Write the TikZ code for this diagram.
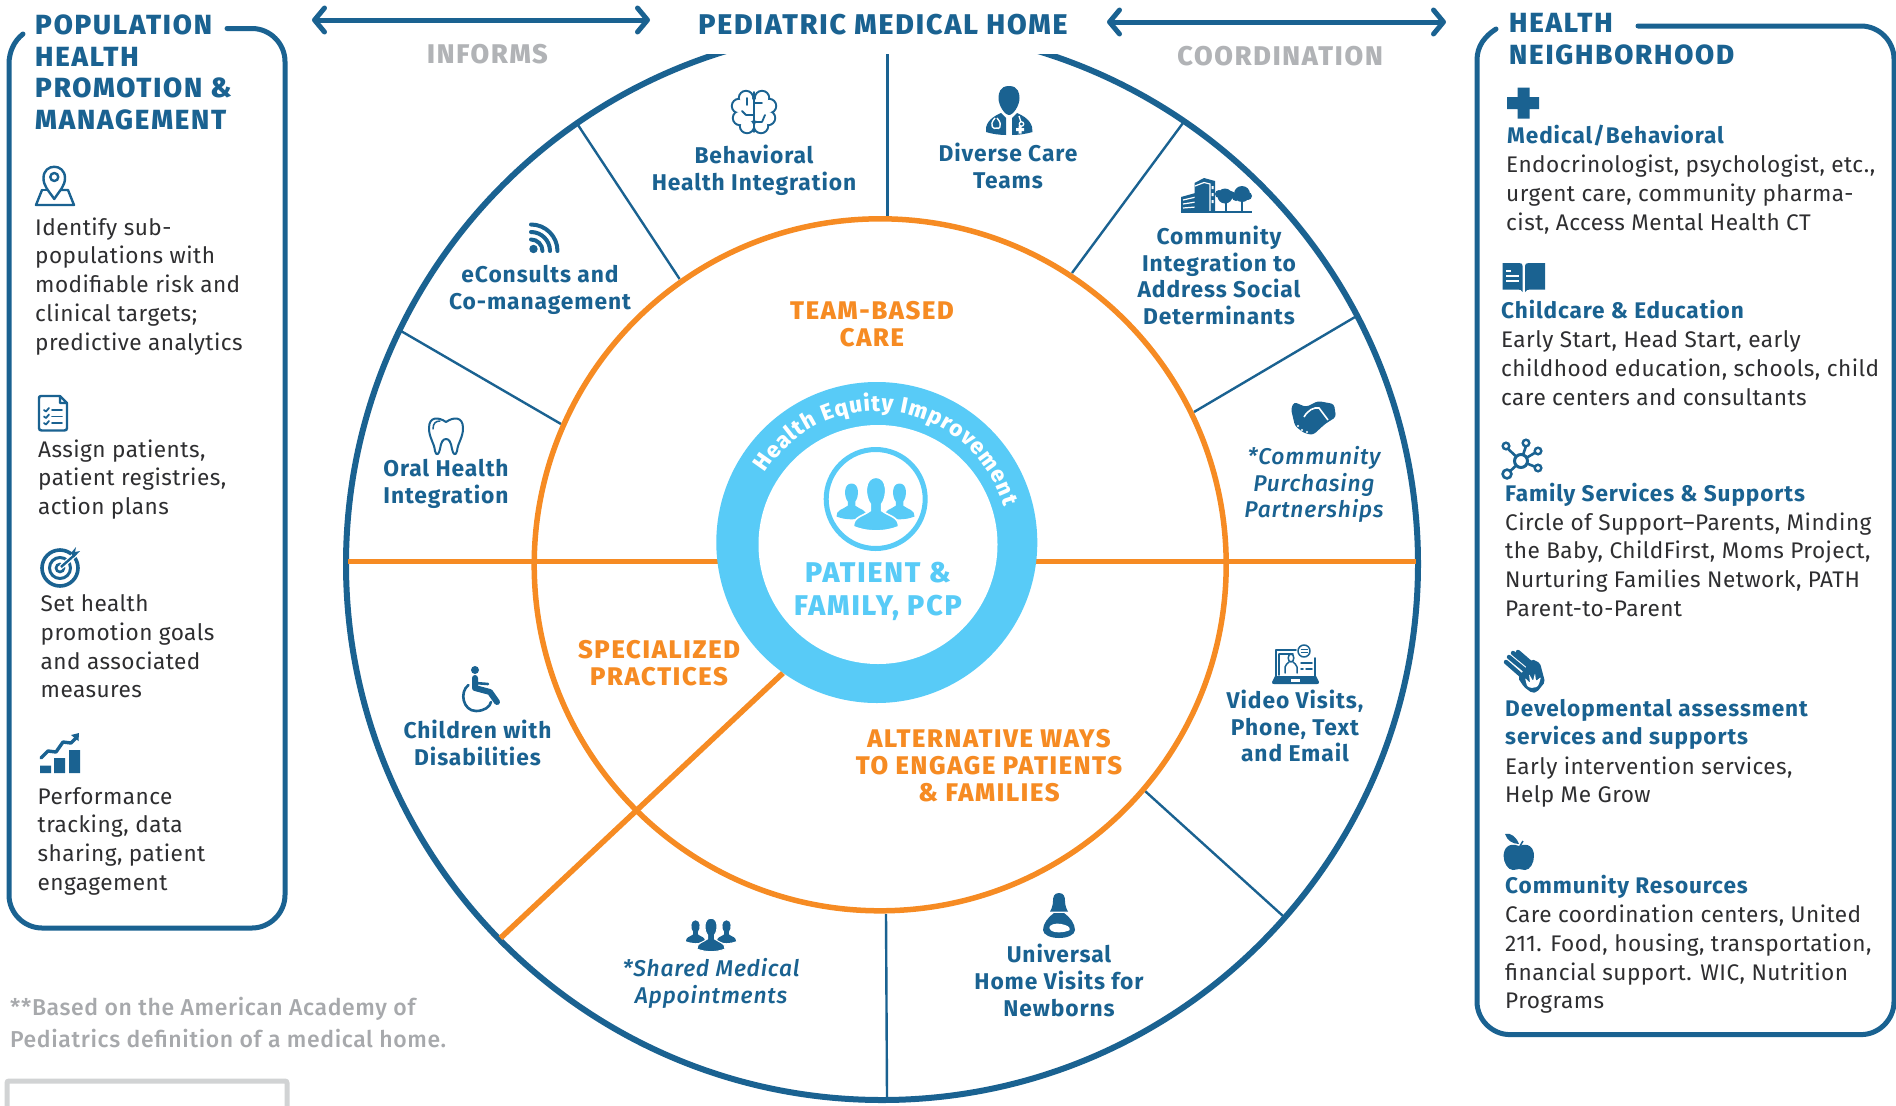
\documentclass[tikz,border=0pt]{standalone}
\usepackage{fontspec}
\usetikzlibrary{arrows.meta,decorations.text}
\setmainfont{Fira Sans}
\newfontfamily\bodyfam[LetterSpace=2]{Fira Sans}
\newfontfamily\labfam[LetterSpace=4]{Fira Sans}
\newfontfamily\medfam[LetterSpace=3.5]{Fira Sans Medium}
\newfontfamily\hvfam[LetterSpace=6.5]{Fira Sans ExtraBold}
\newfontfamily\ringfam{Fira Sans Medium}
\newfontfamily\greyfam[LetterSpace=2.7]{Fira Sans Medium}
\definecolor{bl}{HTML}{1A6291}
\definecolor{org}{HTML}{F68B23}
\definecolor{sky}{HTML}{58CBF7}
\definecolor{gry}{HTML}{B1B3B6}
\definecolor{gry2}{HTML}{A7A9AC}
\definecolor{bx}{HTML}{D1D3D4}
\definecolor{ink}{HTML}{2E2E30}
\newcommand\fl{\rule{0pt}{30pt}}
\newcommand\bustp[5]{% x, y of head, scale, fill, draw opts
 \begin{scope}[shift={(#1,#2)},scale=#3]
 \path[fill=#4,#5] (-1,1.5) .. controls (-1.02,1.05) and (-.6,1.05) .. (-.25,.78) -- (-.25,.5) .. controls (-.5,.2) and (-.55,-.7) .. (0,-.7) .. controls (.55,-.7) and (.5,.2) .. (.25,.5) -- (.25,.78) .. controls (.6,1.05) and (1.02,1.05) .. (1,1.5) .. controls (.4,1.75) and (-.4,1.75) .. cycle;
 \end{scope}}
\tikzset{
 body/.style={inner sep=0,anchor=north west,align=left,text=ink,font=\bodyfam\fontsize{22.6}{28.7}\selectfont},
 bhead/.style={inner sep=0,anchor=north west,align=left,text=bl,font=\labfam\bfseries\fontsize{22.6}{28.7}\selectfont},
 phead/.style={inner sep=0,anchor=north west,align=left,text=bl,font=\hvfam\fontsize{27.7}{31.8}\selectfont},
 wlabel/.style={inner sep=0,anchor=north,align=center,text=bl,font=\labfam\bfseries\fontsize{22.8}{26.8}\selectfont},
 wital/.style={inner sep=0,anchor=north,align=center,text=bl,font=\medfam\itshape\fontsize{22.8}{26.8}\selectfont},
 olabel/.style={inner sep=0,anchor=north,align=center,text=org,font=\hvfam\fontsize{25.5}{27}\selectfont},
 glabel/.style={inner sep=0,anchor=north,align=center,text=gry,font=\hvfam\fontsize{27}{30}\selectfont},
 spoke/.style={draw=bl,line width=2.4pt},
 panel/.style={draw=bl,line width=5pt,line cap=round},
 orangeline/.style={draw=org,line width=5.5pt},
 dbl/.style={draw=bl,line width=5pt,line cap=round,{Straight Barb[length=10pt,width=24pt,line width=5pt,round]}-{Straight Barb[length=10pt,width=24pt,line width=5pt,round]}},
 ic/.style={draw=bl,line width=2.4pt,line cap=round,line join=round},
 icf/.style={fill=bl},
}
\begin{document}
\begin{tikzpicture}[x=1pt,y=-1pt]
\useasboundingbox (0,0) rectangle (1896,1106);
\fill[white] (0,0) rectangle (1896,1106);
% ---------- wheel
\coordinate (wc) at (882,564);
\coordinate (oc) at (880.2,564.8);
\draw[bl,line width=6pt] (wc) circle[radius=536];
% spokes
\coordinate (s1a) at (887.5,54); \coordinate (s1b) at (887.5,219);
\coordinate (s2a) at (578,125);  \coordinate (s2b) at (679.6,279);
\coordinate (s3a) at (401,331);  \coordinate (s3b) at (561,424);
\coordinate (s4a) at (1183,123); \coordinate (s4b) at (1072,273);
\coordinate (s5a) at (1355,317); \coordinate (s5b) at (1194,412);
\coordinate (s6a) at (1283,916); \coordinate (s6b) at (1145,791);
\coordinate (s7a) at (887,1097); \coordinate (s7b) at (886,914);
\foreach \s in {1,...,7}{\draw[spoke] (s\s a) -- (s\s b);}
% orange
\coordinate (hl) at (348,561.5); \coordinate (hr) at (1416,561.5);
\coordinate (dg1) at (783,673); \coordinate (dg2) at (500.5,938);
\draw[orangeline] (hl) -- (hr);
\draw[orangeline] (dg1) -- (dg2);
\draw[org,line width=5.5pt] (oc) circle[radius=346];
% mask over the top of the rim
\fill[white] (700,0) rectangle (1075,54);
% centre ring
\coordinate (rc) at (876.8,542.5);
\coordinate (ri) at (878,544.5);
\fill[sky] (rc) circle[radius=160.5];
\fill[white] (ri) circle[radius=119.5];
\coordinate (pc) at (875.7,499);
\draw[sky,line width=5pt] (pc) circle[radius=49.5];
\bustp{851.5}{494}{15}{sky}{}
\bustp{899.5}{494}{15}{sky}{}
\bustp{876}{493}{22.5}{sky}{draw=white,line width=1.6pt}
\begin{scope}[y=1pt]
\path[decorate,decoration={text along path,text align={fit to path},text={|\ringfam\bfseries\fontsize{22.5}{26}\selectfont\color{white}|Health Equity Improvement}}]
 ([shift={(148:132)}]877,-543) arc[start angle=148,end angle=16,radius=132];
\end{scope}
\node[inner sep=0,anchor=north,align=center,text=sky,font=\hvfam\fontsize{28.5}{33}\selectfont] (pf) at (878,582-30) {\fl PATIENT \&\\FAMILY, PCP};
% ---------- top row
\node[inner sep=0,anchor=north,text=bl,font=\hvfam\fontsize{28.5}{30}\selectfont] (title) at (883,34-30) {\fl PEDIATRIC MEDICAL HOME};
\coordinate (a1) at (312,20); \coordinate (a2) at (650,20);
\coordinate (a3) at (1107,22); \coordinate (a4) at (1446,22);
\draw[dbl] (a1) -- (a2);
\draw[dbl] (a3) -- (a4);
\node[glabel] (inf) at (487.5,63-30) {\fl INFORMS};
\node[glabel] (coo) at (1280,65-30) {\fl COORDINATION};
% ---------- left panel
\coordinate (lp1) at (227,28.5);
\draw[panel] (lp1) -- (252,28.5) .. controls (270,28.5) and (285,43.5) .. (285,61.5) -- (285,895) .. controls (285,913) and (270,928) .. (252,928) -- (42,928) .. controls (24,928) and (9,913) .. (9,895) -- (9,64) .. controls (9,52) and (14,41) .. (23,34);
\node[phead] (lt) at (35,34-30) {\fl POPULATION\\HEALTH\\PROMOTION \&\\MANAGEMENT};
\node[body] (l1) at (35,235-30) {\fl Identify sub-\\populations with\\modifiable risk and\\clinical targets;\\predictive analytics};
\node[body] (l2) at (38,457-30) {\fl Assign patients,\\patient registries,\\action plans};
\node[body] (l3) at (40.5,611.5-30) {\fl Set health\\promotion goals\\and associated\\measures};
\node[body] (l4) at (37.5,804-30) {\fl Performance\\tracking, data\\sharing, patient\\engagement};
\node[inner sep=0,anchor=north west,align=left,text=gry2,font=\greyfam\fontsize{23}{32}\selectfont] (fn) at (10,1015.5-30) {\fl **Based on the American Academy of\\Pediatrics definition of a medical home.};
\draw[bx,line width=5pt,rounded corners=2pt] (7,1120) -- (7,1081) -- (287,1081) -- (287,1120);
% map pin icon
\draw[ic] (42,190) -- (36,205) -- (74,205) -- (68,190) -- (61,190);
\draw[ic] (47,190) -- (42,190);
\path[ic,fill=white] (54.3,199) .. controls (48,190) and (43.5,186) .. (43.5,178) .. controls (43.5,163) and (65,163) .. (65,178) .. controls (65,186) and (60,190) .. (54.3,199) -- cycle;
\draw[ic] (54.3,177) circle[radius=4];
% checklist icon
\draw[ic] (60,396) -- (41,396) .. controls (39,396) and (39,397) .. (39,399) -- (39,428) .. controls (39,430) and (40,430.5) .. (42,430.5) -- (64,430.5) .. controls (66,430.5) and (67,430) .. (67,428) -- (67,403) -- (60,396) -- (60,403) -- (67,403);
\foreach \y in {410,416.5,423}{\draw[ic,line width=1.8pt] (44,\y) -- (46,\y+1.5) -- (49,\y-2); \draw[ic,line width=1.8pt] (52,\y) -- (62,\y);}
% target icon
\draw[bl,line width=3.6pt] (60,568) circle[radius=18];
\draw[bl,line width=3pt] (60,568) circle[radius=10.5];
\draw[bl,line width=2.6pt] (60,568) circle[radius=4];
\path[white,line width=5pt,draw] (61,567) -- (78,552);
\draw[bl,line width=2.4pt] (61,567) -- (74,555.5);
\fill[bl] (71,553) -- (76,547) -- (75,552) -- (80,551) -- (74,557.5) -- cycle;
% chart icon
\fill[bl] (40,765.5) rectangle (51,773) (54,758) rectangle (65,773) (69,750) rectangle (80,773);
\draw[ic,line width=3.4pt] (41,758) -- (48,751) -- (56,752) -- (63,742) -- (71,743) -- (77,737);
\fill[bl] (71,735) -- (79,733) -- (78.5,741) -- cycle;
% ---------- right panel
\coordinate (rp1) at (1638,26);
\draw[panel] (rp1) -- (1861,26) .. controls (1879,26) and (1894,41) .. (1894,59) -- (1894,1001.6) .. controls (1894,1019.6) and (1879,1034.6) .. (1861,1034.6) -- (1510,1034.6) .. controls (1492,1034.6) and (1477,1019.6) .. (1477,1001.6) -- (1477,60) .. controls (1477,46) and (1485,36) .. (1496,29);
\node[phead] (rt) at (1509,32-30) {\fl HEALTH\\NEIGHBORHOOD};
\node[bhead] (r1h) at (1507,143-30) {\fl Medical/Behavioral};
\node[body] (r1) at (1506,172.5-30) {\fl Endocrinologist, psychologist, etc.,\\urgent care, community pharma-\\cist, Access Mental Health CT};
\node[bhead] (r2h) at (1501,318-30) {\fl Childcare \& Education};
\node[body] (r2) at (1501,347.5-30) {\fl Early Start, Head Start, early\\childhood education, schools, child\\care centers and consultants};
\node[bhead] (r3h) at (1505,501-30) {\fl Family Services \& Supports};
\node[body] (r3) at (1505,530-30) {\fl Circle of Support–Parents, Minding\\the Baby, ChildFirst, Moms Project,\\Nurturing Families Network, PATH\\Parent-to-Parent};
\node[bhead] (r4h) at (1505,716-30) {\fl Developmental assessment\\services and supports};
\node[body] (r4) at (1505,774-30) {\fl Early intervention services,\\Help Me Grow};
\node[bhead] (r5h) at (1505,893-30) {\fl Community Resources};
\node[body] (r5) at (1505,922.5-30) {\fl Care coordination centers, United\\211. Food, housing, transportation,\\financial support. WIC, Nutrition\\Programs};
% plus icon
\fill[bl] (1517.5,87.5) rectangle (1529.5,118.5) (1507,97) rectangle (1539,109);
% book icon
\fill[bl] (1502.7,263) -- (1519,263) .. controls (1522,263) and (1522.5,264) .. (1522.5,266) -- (1522.5,292) .. controls (1522,290) and (1520,289.5) .. (1518,289.5) -- (1502.7,289.5) -- cycle;
\fill[bl] (1545,263) -- (1529,263) .. controls (1526,263) and (1525,264) .. (1525,266) -- (1525,292) .. controls (1526,290) and (1528,289.5) .. (1530,289.5) -- (1545,289.5) -- cycle;
\draw[white,line width=1.5pt] (1506,271) -- (1511,271) (1506,276) -- (1519,276) (1506,281) -- (1519,281);
% network icon
\draw[bl,line width=2.6pt] (1521,461) -- (1506,447) (1521,461) -- (1527,443) (1521,461) -- (1538,451) (1521,461) -- (1538,468) (1521,461) -- (1507,474);
\draw[bl,line width=3pt,fill=white] (1521,461) circle[radius=6.5];
\foreach \p in {(1506,446),(1526,443),(1538,451),(1538,468)}{\draw[bl,line width=2.4pt,fill=white] \p circle[radius=3.3];}
\draw[bl,line width=2.6pt,fill=white] (1507,474) circle[radius=4.4];
% hands icon
\foreach \a/\b in {{(1506,662)}/{(1522,676)},{(1509,657)}/{(1526,671)},{(1513,653)}/{(1530,667)},{(1518,652)}/{(1533,665)}}{\draw[bl,line width=4.4pt,line cap=round] \a -- \b;}
\fill[bl,rounded corners=2pt] (1518,678) -- (1532,659) -- (1540,663) -- (1545,682) -- (1537,692) -- (1532,693) -- (1524,687) -- cycle;
\fill[white,rounded corners=1pt] (1527,686) -- (1525,678) -- (1530,683) -- (1529,674) -- (1533,681) -- (1535,673) -- (1536,681) -- (1541,677) -- (1539,684) -- (1537,687) -- (1531,688) -- cycle;
% apple icon
\fill[bl] (1519,846) .. controls (1509,842) and (1503.6,848) .. (1503.6,856) .. controls (1503.6,863) and (1508,870) .. (1513,870) .. controls (1516,870) and (1517,869) .. (1519,869) .. controls (1521,869) and (1522,870) .. (1525,870) .. controls (1530,870) and (1534,863) .. (1534,856) .. controls (1534,848) and (1529,842) .. (1519,846) -- cycle;
\fill[bl] (1505,834) .. controls (1511,832) and (1517,838) .. (1519,844) .. controls (1512,844) and (1507,840) .. (1505,834) -- cycle;
\draw[bl,line width=1.5pt] (1520,846) -- (1523,841);
% ---------- wheel labels
\node[wlabel] (bh) at (754,163.7-30) {\fl Behavioral\\Health Integration};
\node[wlabel] (ec) at (540,282.7-30) {\fl eConsults and\\Co-management};
\node[wlabel] (oh) at (446,476-30) {\fl Oral Health\\Integration};
\node[wlabel] (dc) at (1008,161-30) {\fl Diverse Care\\Teams};
\node[wlabel] (ci) at (1219,244-30) {\fl Community\\Integration to\\Address Social\\Determinants};
\node[wital] (cp) at (1314,464-30) {\fl *Community\\Purchasing\\Partnerships};
\node[wlabel] (vv) at (1295,708-30) {\fl Video Visits,\\Phone, Text\\and Email};
\node[wlabel] (uh) at (1059,962.7-30) {\fl Universal\\Home Visits for\\Newborns};
\node[wital] (sm) at (711,976-30) {\fl *Shared Medical\\Appointments};
\node[wlabel] (cd) at (477.5,738-30) {\fl Children with\\Disabilities};
\node[olabel] (tb) at (872,319-30) {\fl TEAM-BASED\\CARE};
\node[olabel] (sp) at (659,658.7-30) {\fl SPECIALIZED\\PRACTICES};
\node[olabel] (aw) at (989,747.7-30) {\fl ALTERNATIVE WAYS\\TO ENGAGE PATIENTS\\\& FAMILIES};
% brain icon
\foreach \p/\r in {{(746,98)}/7,{(762,98)}/7,{(739,106)}/7,{(769,106)}/7,{(740,118)}/7,{(768,118)}/7,{(747,126)}/7,{(761,126)}/7,{(750,110)}/12,{(758,110)}/12}{\fill[bl] \p circle[radius=\r+1.2];}
\foreach \p/\r in {{(746,98)}/7,{(762,98)}/7,{(739,106)}/7,{(769,106)}/7,{(740,118)}/7,{(768,118)}/7,{(747,126)}/7,{(761,126)}/7,{(750,110)}/12,{(758,110)}/12}{\fill[white] \p circle[radius=\r-.9];}
\draw[ic,line width=1.8pt] (754,92) -- (754,132) (754,103) -- (762,103) (754,115) -- (746,115) (746,115) -- (742,111) (754,122) -- (762,122) (762,122) -- (765,115) (747,98) -- (747,105);
% wifi icon
\fill[bl] (533.5,249) circle[radius=4.2];
\foreach \r in {9.5,17,24.5}{\draw[bl,line width=4pt,line cap=round] (531,249-\r) arc[start angle=-90,end angle=0,radius=\r+2];}
% tooth icon
\draw[ic,line width=2pt] (446,422) .. controls (439,417) and (429,416) .. (429,428) .. controls (429,438) and (434,442) .. (435,451) .. controls (436,456) and (439,455) .. (440,449) .. controls (441,442) and (443,439) .. (446,439) .. controls (449,439) and (451,442) .. (452,449) .. controls (453,455) and (456,456) .. (457,451) .. controls (458,442) and (463,438) .. (463,428) .. controls (463,416) and (453,417) .. (446,422) -- cycle;
\draw[ic,line width=1.5pt] (433,429) .. controls (433,423) and (436,421) .. (440,421);
% doctor icon
\fill[bl] (1009,86) .. controls (1000,86) and (998.5,93) .. (998.5,98) .. controls (998.5,106) and (1005,115) .. (1009,115) .. controls (1013,115) and (1019.5,106) .. (1019.5,98) .. controls (1019.5,93) and (1018,86) .. (1009,86) -- cycle;
\fill[bl] (986,132) .. controls (985,125) and (989,118) .. (1001,113) -- (1006,118) -- (1006,135) .. controls (1000,135) and (992,134) .. (986,132) -- cycle;
\fill[bl] (1032.5,132) .. controls (1033,125) and (1029,118) .. (1017,113) -- (1012,118) -- (1012,135) .. controls (1018,135) and (1026,134) .. (1032.5,132) -- cycle;
\draw[white,line width=1.4pt] (995,118) .. controls (988,126) and (994,130) .. (997,128) (997,118) .. controls (1004,126) and (998,130) .. (997,128) (1019,116) -- (1021,122);
\draw[white,line width=1.3pt] (1021.5,124) circle[radius=2.2];
\fill[white] (1016,128) rectangle (1024,131) (1018.5,125.5) rectangle (1021.5,133.5);
% building icon
\fill[bl] (1181,197) -- (1199,192) -- (1199,212) -- (1181,212) -- cycle;
\draw[white,line width=1.2pt] (1183,200) -- (1196,197) (1183,204) -- (1196,202) (1183,208) -- (1196,207);
\fill[bl] (1194.5,183) -- (1204,178) -- (1215,181) -- (1215,212) -- (1194.5,212) -- cycle;
\draw[white,line width=1.2pt] (1195,186) -- (1204,182.5) -- (1210,184) -- (1210,212);
\fill[white] (1211.5,186) rectangle (1213.5,189) (1211.5,193) rectangle (1213.5,196) (1211.5,200) rectangle (1213.5,203);
\fill[bl] (1225,196) circle[radius=7.5] (1219,194) circle[radius=4] (1231,195) circle[radius=4] (1242,194) circle[radius=8] (1236,197) circle[radius=4] (1248,196) circle[radius=4];
\draw[bl,line width=2pt] (1226,197) -- (1226,211) (1242,197) -- (1242,211) (1180.6,212) -- (1252,212);
% handshake icon
\fill[bl,rounded corners=3pt] (1291,409) -- (1294,402) -- (1306,407) -- (1318,401) -- (1334,404) -- (1336,417) -- (1325,424) -- (1313,435) -- (1304,433) -- (1295,426) -- cycle;
\draw[white,line width=1.6pt] (1304,417) .. controls (1308,410) and (1314,407) .. (1319,408) -- (1328,420);
\foreach \p in {(1298,426),(1302,430),(1307,432)}{\fill[white] \p circle[radius=1.1];}
% laptop icon
\draw[ic,line width=1.8pt] (1296,650) -- (1276,650) -- (1276,678) (1315,658) -- (1315,678);
\fill[bl] (1275,676) -- (1316,676) -- (1319,682) .. controls (1319,684) and (1318,684) .. (1317,684) -- (1274,684) .. controls (1273,684) and (1272,684) .. (1272,682) -- cycle;
\fill[white] (1291,679) rectangle (1300,681.5);
\draw[ic,line width=1.5pt] (1279,654) -- (1293,654) (1279,654) -- (1279,675);
\draw[ic,line width=1.5pt,fill=white] (1304,651) circle[radius=6];
\draw[bl,line width=1pt] (1300.5,649.5) -- (1307.5,649.5) (1300.5,652.5) -- (1307.5,652.5);
\draw[ic,line width=1.5pt] (1285,673) -- (1285,667) .. controls (1285,664) and (1288,664) .. (1289,662) (1297,673) -- (1297,667) .. controls (1297,664) and (1294,664) .. (1293,662);
\draw[ic,line width=1.5pt] (1291,658) ellipse[x radius=2.8,y radius=4];
\draw[ic,line width=1.5pt] (1301,663) -- (1312,663);
\draw[ic,line width=1.5pt] (1301,669) -- (1303,669) (1306,669) -- (1312,669);
% mother icon
\fill[bl] (1059,893) .. controls (1054,893) and (1053,897) .. (1053,901) .. controls (1053,906) and (1051,910) .. (1050,911.5) -- (1068,911.5) .. controls (1067,910) and (1065,906) .. (1065,901) .. controls (1065,897) and (1064,893) .. (1059,893) -- cycle;
\fill[bl] (1054,913) -- (1064,913) .. controls (1070,917) and (1075,924) .. (1075,930) .. controls (1075,935) and (1067,938) .. (1059,938) .. controls (1051,938) and (1043,935) .. (1043,930) .. controls (1043,924) and (1048,917) .. (1054,913) -- cycle;
\fill[white] (1050,926) .. controls (1053,923) and (1060,923) .. (1065,925) .. controls (1069,926) and (1071,929) .. (1069,930.5) .. controls (1063,933) and (1054,933) .. (1051,930.5) .. controls (1049,929) and (1049,927) .. (1050,926) -- cycle;
% wheelchair icon
\fill[bl] (475,670) circle[radius=4];
\draw[bl,line width=6pt,line cap=round,line join=round] (475,678) -- (475,688) -- (490,692) -- (497,702);
\draw[bl,line width=2.6pt,line cap=round] (475,683) -- (488,684);
\draw[bl,line width=2.6pt,line cap=round] (468.5,685) .. controls (459,692) and (463,711) .. (476,711) .. controls (484,711) and (490,707) .. (491,702);
% people icon (shared appointments)
\bustp{695.5}{927}{9.5}{bl}{}
\bustp{726.5}{927}{9.5}{bl}{}
\bustp{711}{928}{14}{bl}{draw=white,line width=1pt}
\end{tikzpicture}
\end{document}
